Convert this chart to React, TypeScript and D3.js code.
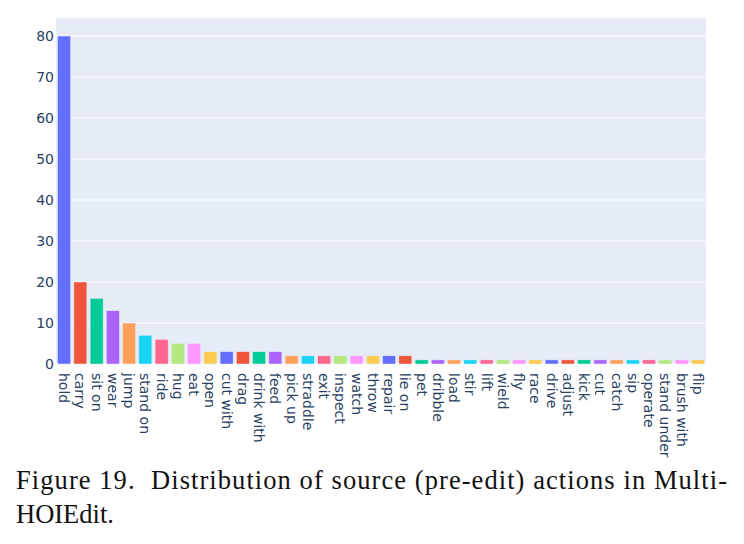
import React, { useEffect, useRef } from 'react';
import * as d3 from 'd3';

const actions = [
    'hold', 'carry', 'sit on', 'wear', 'jump', 'stand on', 'ride', 'hug', 'eat', 'open',
    'cut with', 'drag', 'drink with', 'feed', 'pick up', 'straddle', 'exit', 'inspect', 'watch', 'throw',
    'repair', 'lie on', 'pet', 'dribble', 'load', 'stir', 'lift', 'wield', 'fly', 'race',
    'drive', 'adjust', 'kick', 'cut', 'catch', 'sip', 'operate', 'stand under', 'brush with', 'flip',
];

const counts = [
    80, 20, 16, 13, 10, 7, 6, 5, 5, 3,
    3, 3, 3, 3, 2, 2, 2, 2, 2, 2,
    2, 2, 1, 1, 1, 1, 1, 1, 1, 1,
    1, 1, 1, 1, 1, 1, 1, 1, 1, 1,
];

const yTicks = [0, 10, 20, 30, 40, 50, 60, 70, 80];

// plotly default colorway
const palette = ['#636EFA', '#EF553B', '#00CC96', '#AB63FA', '#FFA15A', '#19D3F3', '#FF6692', '#B6E880', '#FF97FF', '#FECB52'];

const captionLine1 = 'Figure 19.  Distribution of source (pre-edit) actions in Multi-';
const captionLine2 = 'HOIEdit.';

const ActionChart: React.FC = () => {
    const svgRef = useRef<SVGSVGElement>(null);

    useEffect(() => {
        const root = d3.select(svgRef.current);
        root.selectAll('*').remove();

        const margin = { top: 18, left: 56 };
        const width = 650;
        const height = 346;

        const svg = root.append('g')
            .attr('transform', `translate(${margin.left}, ${margin.top})`);

        const xScale = d3.scaleBand()
            .domain(actions)
            .range([0, width])
            .paddingInner(0.2)
            .paddingOuter(0.1);

        const yScale = d3.scaleLinear()
            .domain([0, 84.4])
            .range([height, 0]);

        svg.append('rect')
            .attr('width', width)
            .attr('height', height)
            .attr('fill', '#E5ECF6');

        svg.selectAll('.grid')
            .data(yTicks)
            .enter().append('line')
            .attr('class', 'grid')
            .attr('x1', 0)
            .attr('x2', width)
            .attr('y1', (d) => yScale(d))
            .attr('y2', (d) => yScale(d))
            .attr('stroke', '#ffffff')
            .attr('stroke-width', (d) => (d === 0 ? 2 : 1));

        svg.selectAll('.bar')
            .data(actions)
            .enter().append('rect')
            .attr('class', 'bar')
            .attr('x', (d) => xScale(d) || 0)
            .attr('width', xScale.bandwidth())
            .attr('y', (d, idx) => yScale(counts[idx]))
            .attr('height', (d, idx) => height - yScale(counts[idx]))
            .attr('fill', (d, idx) => palette[idx % palette.length])
            .attr('stroke', '#E5ECF6')
            .attr('stroke-width', 0.5);

        const font = '"DejaVu Sans", Verdana, sans-serif';

        svg.selectAll('.ytick')
            .data(yTicks)
            .enter().append('text')
            .attr('class', 'ytick')
            .attr('x', -2)
            .attr('y', (d) => yScale(d))
            .attr('dy', '0.36em')
            .attr('text-anchor', 'end')
            .attr('font-family', font)
            .attr('font-size', 14)
            .attr('fill', '#2a3f5f')
            .text((d) => d);

        svg.selectAll('.xtick')
            .data(actions)
            .enter().append('text')
            .attr('class', 'xtick')
            .attr('transform', (d) => `translate(${(xScale(d) || 0) + xScale.bandwidth() / 2}, ${height + 9}) rotate(90)`)
            .attr('dy', '0.36em')
            .attr('text-anchor', 'start')
            .attr('font-family', font)
            .attr('font-size', 14)
            .attr('fill', '#2a3f5f')
            .text((d) => d);

        const caption = root.append('g')
            .attr('font-family', '"Liberation Serif", "Times New Roman", serif')
            .attr('font-size', 26.5)
            .attr('fill', '#111');

        caption.append('text')
            .attr('x', 16)
            .attr('y', 489)
            .attr('textLength', 711)
            .attr('lengthAdjust', 'spacing')
            .style('white-space', 'pre')
            .text(captionLine1);

        caption.append('text')
            .attr('x', 16)
            .attr('y', 523)
            .text(captionLine2);
    }, []);

    return (
        <svg
            ref={svgRef}
            width={744}
            height={544}
            style={{ position: 'absolute', left: 0, top: 0, background: '#fff' }}
        />
    );
};

export default function App() {
    return <ActionChart />;
}
